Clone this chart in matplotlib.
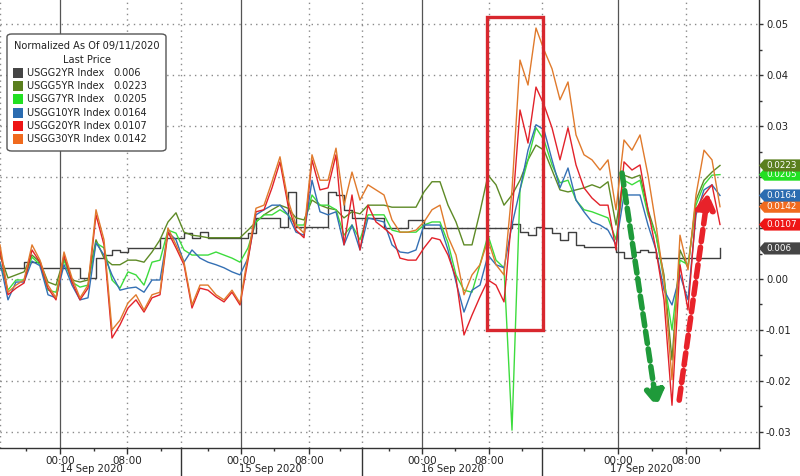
import numpy as np
import matplotlib
matplotlib.use("Agg")
import matplotlib.pyplot as plt
import matplotlib.transforms as mtransforms
from matplotlib.patches import Rectangle, FancyBboxPatch
from matplotlib.path import Path

# DATA --------------------------------------------------------------------
# x axis = bar number on the (gappy) trading clock, values in 1/1000 units
bars = np.arange(91)

usgg30 = [6.7, -2.6, -1.2, -0.2, 6.7, 3.7, -1.2, -3.7, 5.3, 0.2,
          -3.7, -1.2, 13.6, 7.7, -10.0, -8.1, -4.7, -3.1, -6.1, -3.1,
          -2.6, 10.0, 6.7, 3.3, -5.1, -1.2, -1.2, -3.1, -4.1, -2.2,
          -4.7, 4.7, 13.9, 14.5, 19.1, 24.0, 15.5, 10.6, 9.0, 24.4,
          19.4, 19.4, 25.7, 14.5, 21.0, 15.5, 18.5, 17.5, 16.5, 11.6,
          9.2, 9.2, 9.6, 11.2, 13.6, 14.5, 8.3, 4.7, -3.1, 0.8,
          2.8, 7.7, 2.8, 0.8, 17.5, 43.0, 38.1, 49.3, 45.0, 41.3,
          35.2, 38.7, 28.3, 24.4, 23.4, 21.4, 23.4, 13.6, 27.3, 25.3,
          28.3, 20.4, 10.6, -0.2, -19.8, 8.6, 1.8, 16.5, 25.3, 23.4,
          14.2]

usgg20 = [5.7, -3.1, -1.8, -0.8, 5.7, 3.3, -1.8, -4.1, 4.7, -0.6,
          -4.1, -1.8, 12.6, 6.7, -11.6, -9.0, -5.7, -4.1, -6.5, -3.7,
          -3.1, 9.2, 6.1, 2.8, -5.7, -1.8, -2.2, -3.5, -4.5, -2.6,
          -5.1, 3.7, 13.2, 13.6, 17.9, 23.0, 14.5, 9.6, 8.1, 23.4,
          17.5, 17.9, 24.4, 6.7, 16.5, 5.7, 14.5, 11.2, 10.0, 8.6,
          4.1, 3.7, 3.7, 6.1, 8.1, 7.7, 4.7, 0.2, -11.0, -7.1,
          -3.5, -0.2, -1.2, -4.5, 12.6, 33.2, 26.7, 37.7, 34.2, 29.7,
          23.4, 29.7, 22.4, 17.9, 15.9, 14.5, 14.5, 5.7, 23.0, 21.4,
          22.4, 13.6, 5.7, -4.1, -24.8, 2.8, -6.1, 13.6, 16.5, 18.5,
          10.7]

usgg10 = [3.3, -4.1, -0.6, -0.6, 3.5, 2.6, -3.1, -3.7, 2.8, -1.2,
          -4.1, -3.7, 7.1, 4.7, 0.8, -2.2, -1.8, -1.6, -2.6, -0.2,
          -0.2, 9.2, 7.7, 3.3, 5.7, 4.1, 3.3, 2.8, 2.2, 1.4,
          0.8, 4.1, 12.6, 13.6, 14.5, 14.5, 12.6, 9.2, 8.6, 19.4,
          13.2, 12.6, 13.2, 6.7, 10.6, 5.7, 12.0, 11.6, 11.2, 6.7,
          5.3, 5.1, 5.7, 10.6, 10.6, 10.6, 5.7, -0.6, -6.5, -2.2,
          -1.2, 4.7, 2.8, 2.2, 10.6, 17.5, 25.3, 30.3, 29.3, 23.4,
          17.9, 21.8, 15.5, 13.2, 11.2, 10.6, 9.6, 6.7, 16.5, 16.5,
          16.5, 10.6, 5.7, -2.2, -5.1, 0.8, -4.1, 12.6, 17.5, 18.5,
          16.4]

usgg7 = [3.3, -2.2, -0.2, -0.2, 4.3, 2.8, -2.2, -2.6, 3.7, -0.6,
         -1.6, -1.2, 7.1, 6.1, -0.2, -1.8, 1.4, 0.8, -1.2, 3.3,
         3.7, 9.6, 9.0, 5.7, 4.7, 4.7, 4.7, 5.3, 4.7, 4.1,
         3.3, 6.1, 11.2, 12.6, 12.6, 13.6, 12.6, 10.6, 10.6, 16.5,
         14.5, 14.5, 13.6, 8.6, 10.6, 7.7, 12.6, 12.6, 12.6, 9.6,
         9.2, 9.2, 9.2, 10.6, 11.2, 11.2, 7.1, 0.8, -2.2, -2.6,
         2.8, 8.6, 3.7, 2.2, -29.7, 17.5, 23.4, 29.7, 27.3, 22.4,
         18.9, 19.4, 15.5, 13.6, 13.2, 12.6, 12.0, 7.7, 19.4, 18.5,
         19.4, 12.6, 8.6, -0.2, -10.0, 3.7, 2.8, 14.5, 18.5, 20.4,
         20.5]

usgg5 = [4.7, 0.2, 0.8, 1.4, 4.7, 3.3, -0.6, -1.2, 4.1, -0.2,
         -0.6, -0.2, 7.7, 4.1, 2.8, 2.8, 3.7, 3.7, 3.3, 5.3,
         7.7, 11.2, 13.0, 9.2, 8.6, 8.4, 8.1, 8.1, 8.1, 8.1,
         8.1, 9.6, 11.2, 12.6, 13.6, 14.5, 13.9, 12.0, 11.6, 15.5,
         14.5, 13.9, 13.6, 12.0, 13.2, 12.8, 14.5, 14.5, 14.5, 14.1,
         14.1, 14.1, 14.1, 17.1, 19.1, 19.1, 14.5, 11.2, 6.7, 6.7,
         13.2, 20.4, 18.5, 14.5, 16.5, 19.4, 23.4, 26.3, 25.3, 21.4,
         17.5, 17.1, 17.5, 17.9, 18.5, 17.9, 19.1, 10.6, 20.4, 19.8,
         20.4, 13.6, 8.6, 0.8, -15.9, 5.7, 2.2, 15.5, 19.4, 21.0,
         22.3]

usgg2 = [2.2, 2.2, 2.2, 3.3, 3.3, 2.2, 2.2, 2.2, 2.2, 2.2,
         0.2, 0.2, 4.1, 4.7, 5.7, 5.3, 6.1, 6.1, 6.1, 6.1,
         8.1, 8.1, 8.1, 9.0, 8.1, 9.2, 8.1, 8.1, 8.1, 8.1,
         8.1, 9.0, 12.0, 12.0, 12.0, 10.2, 17.1, 10.2, 10.2, 10.2,
         10.2, 17.1, 16.5, 13.6, 12.0, 12.0, 12.0, 12.0, 10.0, 10.0,
         10.0, 11.6, 11.6, 10.0, 10.0, 10.0, 10.0, 10.0, 10.0, 10.0,
         10.0, 10.0, 10.0, 10.0, 10.8, 9.2, 8.6, 10.2, 10.0, 9.0,
         7.7, 9.2, 6.7, 6.3, 6.3, 6.3, 6.3, 5.3, 4.1, 5.3,
         5.7, 5.3, 4.1, 4.1, 4.1, 4.1, 4.1, 4.1, 4.1, 4.1,
         6.0]

names = ["USGG2YR Index", "USGG5YR Index", "USGG7YR Index",
         "USGG10YR Index", "USGG20YR Index", "USGG30YR Index"]
last_price = ["0.006", "0.0223", "0.0205", "0.0164", "0.0107", "0.0142"]
series = [usgg2, usgg5, usgg7, usgg10, usgg20, usgg30]
line_colors = ["#3f3f3f", "#5e8a26", "#3ddc3d", "#3470b4", "#e2222a", "#e07a2c"]
box_colors = ["#454545", "#5a7f1e", "#22e022", "#2b6cb0", "#ee1515", "#f06a1e"]

# time axis labels (bar numbers)
time_ticks = [7.5, 15.9, 30.1, 38.6, 52.75, 61.1, 77.25, 85.75]
time_labels = ["00:00", "08:00"] * 4
minor_ticks = [3.3, 11.7, 20.1, 26.0, 34.3, 42.5, 48.6, 56.9, 65.3, 73.0, 81.5, 90.0]
day_bounds = [0, 22.6, 45.25, 67.75]
day_centers = [11.4, 33.8, 56.5, 80.2]
day_labels = ["14 Sep 2020", "15 Sep 2020", "16 Sep 2020", "17 Sep 2020"]

# annotations: highlighted box and the two arrows
box_x = (60.875, 67.875)
box_y = (-0.0100, 0.0515)
green_arrow = ((77.75, 0.0208), (82.1, -0.0251))
red_arrow = ((84.9, -0.0238), (88.5, 0.0169))

# PLOT --------------------------------------------------------------------
plt.rcParams["font.family"] = "DejaVu Sans"
fig = plt.figure(figsize=(8.0, 4.76), dpi=100)
ax = fig.add_axes([0, 28 / 476, 759 / 800, 448 / 476])

ax.set_xlim(0, 759 / 8)
ax.set_ylim(-0.0332, 0.0548)

yt = np.round(np.arange(-0.03, 0.0501, 0.01), 2)
for y in yt:
    ax.axhline(y, color="#8a8a8a", lw=1, ls=(0, (1, 3)), zorder=0.5)
for x in time_ticks[0::2]:
    ax.axvline(x, color="#555555", lw=0.9, zorder=0.5)
for x in time_ticks[1::2] + day_bounds:
    ax.axvline(x, color="#8a8a8a", lw=1, ls=(0, (1, 3)), zorder=0.5)

for i, (vals, col) in enumerate(zip(series, line_colors)):
    v = np.array(vals) / 1000
    if i == 0:
        ax.plot(bars, v, color=col, lw=1.0, drawstyle="steps-post", zorder=2 + i)
    else:
        ax.plot(bars, v, color=col, lw=1.0, zorder=2 + i)

# red highlight box
ax.add_patch(Rectangle((box_x[0], box_y[0]), box_x[1] - box_x[0], box_y[1] - box_y[0],
                       fill=False, ec="#d8272e", lw=2.4, zorder=9))

# dashed arrows
for (start, end), col in [(green_arrow, "#1f9a3a"), (red_arrow, "#e8222a")]:
    ax.annotate("", xy=end, xytext=start,
                arrowprops=dict(arrowstyle="-|>,head_length=0.9,head_width=0.55",
                                lw=4, ls=(0, (2.2, 1.0)), color=col,
                                shrinkA=0, shrinkB=0, mutation_scale=10),
                zorder=10)

# axes styling
for s in ["left", "top"]:
    ax.spines[s].set_visible(False)
for s in ["right", "bottom"]:
    ax.spines[s].set_color("#333333")
    ax.spines[s].set_linewidth(1)

# 0.02 and 0.01 sit under the last price tags, as in the original
ax.yaxis.tick_right()
ax.set_yticks(yt)
ax.set_yticklabels(["" if y in (0.01, 0.02) else f"{y:.2f}" for y in yt])
ax.set_yticks(yt[:-1] + 0.005, minor=True)
ax.tick_params(axis="y", which="major", length=3, width=1, color="#333333",
               pad=2, labelsize=7.2, labelcolor="#222222")
ax.tick_params(axis="y", which="minor", length=2, width=1, color="#333333")

ax.set_xticks(time_ticks)
ax.set_xticklabels(time_labels)
ax.set_xticks(minor_ticks, minor=True)
ax.tick_params(axis="x", which="major", length=4, width=1, color="#333333",
               pad=1.5, labelsize=7.5, labelcolor="#222222")
ax.tick_params(axis="x", which="minor", length=2, width=1, color="#333333")

# day labels and separators under the axis
trans = mtransforms.blended_transform_factory(ax.transData, fig.transFigure)
for x in day_bounds[1:]:
    ax.plot([x, x], [28 / 476, 0], color="#333333", lw=1, transform=trans, clip_on=False)
for x, lab in zip(day_centers, day_labels):
    ax.text(x, 1 - 469 / 476, lab, transform=trans, ha="center", va="center",
            fontsize=7.2, color="#222222")

# last price tags on the right axis
def tag_box(x0, y0, width, height, mutation_size):
    pad = 0.18 * mutation_size
    x0, y0 = x0 - pad, y0 - pad
    x1, y1 = x0 + width + 2 * pad, y0 + height + 2 * pad
    tip = (y1 - y0) * 0.45
    verts = [(x0, y0), (x1 + 10, y0), (x1 + 10, y1), (x0, y1),
             (x0 - tip, (y0 + y1) / 2), (x0, y0)]
    return Path(verts, closed=True)

tag_order = [0, 4, 5, 3, 2, 1]
for i in tag_order:
    ax.annotate(last_price[i], xy=(1, float(last_price[i])),
                xycoords=("axes fraction", "data"), xytext=(5, 0),
                textcoords="offset points", ha="left", va="center",
                fontsize=6.3, color="white", annotation_clip=False, zorder=20,
                bbox=dict(boxstyle=tag_box, fc=box_colors[i], ec="none"))

# legend box
def fx(px):
    return px / 800

def fy(py):
    return 1 - py / 476

fig.patches.append(FancyBboxPatch((fx(7), fy(151)), fx(159), 117 / 476,
                                  boxstyle="round,pad=0,rounding_size=0.006",
                                  transform=fig.transFigure, fc="white",
                                  ec="#555555", lw=1, zorder=10))
fig.text(fx(87), fy(46), "Normalized As Of 09/11/2020", ha="center", va="center",
         fontsize=7.1, color="#222222", zorder=11)
fig.text(fx(87), fy(60), "Last Price", ha="center", va="center",
         fontsize=7.1, color="#222222", zorder=11)
for k in range(len(names)):
    yy = 73 + k * 13.2
    fig.patches.append(Rectangle((fx(13), fy(yy + 5)), fx(10), 10 / 476,
                                 transform=fig.transFigure, fc=box_colors[k],
                                 ec="none", zorder=11))
    fig.text(fx(27), fy(yy), names[k], ha="left", va="center",
             fontsize=7.0, color="#222222", zorder=11)
    fig.text(fx(113), fy(yy), last_price[k], ha="left", va="center",
             fontsize=7.0, color="#222222", zorder=11)

fig.savefig("out.png", dpi=100, facecolor="white")
